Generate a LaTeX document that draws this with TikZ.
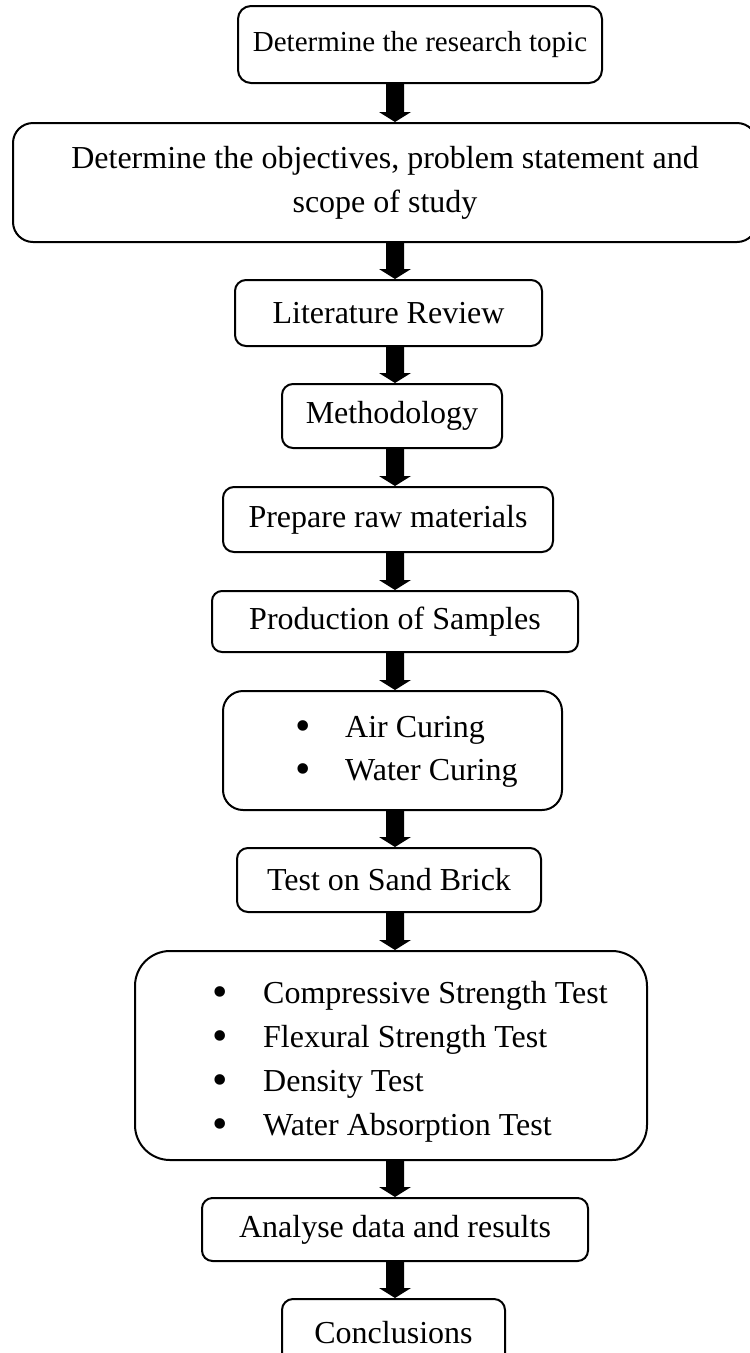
\documentclass[tikz,border=0pt]{standalone}
\usepackage{fontspec}
\setmainfont{Liberation Serif}
\usetikzlibrary{calc}
\newcommand\flowarrow[2]{%
  \fill ($(#1.south -| ax)+(-9,0)$) -- ($(#2.north -| ax)+(-9,-10)$) -- ($(#2.north -| ax)+(-16,-10)$)
    -- (#2.north -| ax) -- ($(#2.north -| ax)+(16,-10)$) -- ($(#2.north -| ax)+(9,-10)$)
    -- ($(#1.south -| ax)+(9,0)$) -- cycle;}
\begin{document}
\begin{tikzpicture}[x=1pt,y=-1pt,
  box/.style={draw, line width=2pt, inner sep=0pt, align=center,
    font=\fontsize{32}{44}\selectfont},
  item/.style={inner sep=0pt, font=\fontsize{32}{44}\selectfont},
  bul/.style={inner sep=0pt, font=\fontsize{44}{44}\selectfont}]
\clip (0,0) rectangle (750,1353);
\coordinate (ax) at (395,0);
% boxes: center, width, height
\node[box, font=\fontsize{29}{34}\selectfont, minimum width=364, minimum height=77, rounded corners=13] (topic) at (420,44.5) {Determine the research topic};
\node[box, minimum width=744, minimum height=119, rounded corners=20] (obj) at (385,182.5) {Determine the objectives, problem statement and\\scope of study};
\node[box, minimum width=307, minimum height=66, rounded corners=11] (lit) at (388.5,313) {Literature Review};
\node[box, minimum width=220, minimum height=64, rounded corners=11] (meth) at (392,416) {Methodology};
\node[box, minimum width=330, minimum height=65, rounded corners=11] (prep) at (388,519.5) {Prepare raw materials};
\node[box, minimum width=366, minimum height=61, rounded corners=10] (prod) at (395,621.5) {Production of Samples};
\node[box, minimum width=339, minimum height=119, rounded corners=20] (cur) at (392.5,750.5) {};
\node[box, minimum width=304, minimum height=64, rounded corners=11] (test) at (389,880) {Test on Sand Brick};
\node[box, minimum width=512, minimum height=209, rounded corners=35] (tests) at (391,1055.5) {};
\node[box, minimum width=386, minimum height=63, rounded corners=10.5] (ana) at (395,1229.5) {Analyse data and results};
\node[box, minimum width=223, minimum height=68, rounded corners=11] (conc) at (393.5,1333) {Conclusions};
% bullet items
\node[bul, anchor=base] (cb1) at (303,740) {•};
\node[item, anchor=base west] (ci1) at (345,737) {Air Curing};
\node[bul, anchor=base] (cb2) at (303,783) {•};
\node[item, anchor=base west] (ci2) at (345,780) {Water Curing};
\node[bul, anchor=base] (tb1) at (220,1006) {•};
\node[item, anchor=base west] (ti1) at (263,1003) {Compressive Strength Test};
\node[bul, anchor=base] (tb2) at (220,1050) {•};
\node[item, anchor=base west] (ti2) at (263,1047) {Flexural Strength Test};
\node[bul, anchor=base] (tb3) at (220,1094) {•};
\node[item, anchor=base west] (ti3) at (263,1091) {Density Test};
\node[bul, anchor=base] (tb4) at (220,1138) {•};
\node[item, anchor=base west] (ti4) at (263,1135) {Water Absorption Test};
% arrows
\flowarrow{topic}{obj}
\flowarrow{obj}{lit}
\flowarrow{lit}{meth}
\flowarrow{meth}{prep}
\flowarrow{prep}{prod}
\flowarrow{prod}{cur}
\flowarrow{cur}{test}
\flowarrow{test}{tests}
\flowarrow{tests}{ana}
\flowarrow{ana}{conc}
\end{tikzpicture}
\end{document}
